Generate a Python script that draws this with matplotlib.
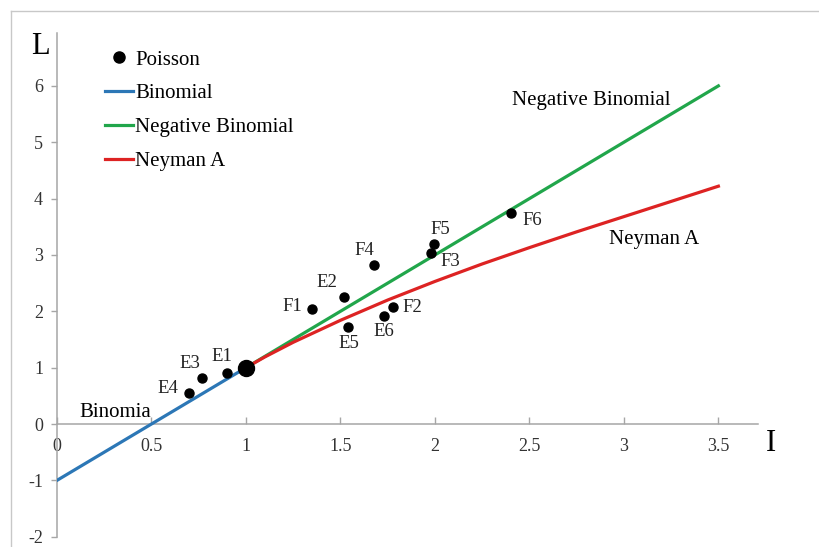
import matplotlib
matplotlib.use("Agg")
import matplotlib.pyplot as plt
from matplotlib.lines import Line2D

plt.rcParams['font.family'] = ['Liberation Serif', 'DejaVu Serif']
plt.rcParams['axes.unicode_minus'] = False

# observed samples (I, L)
sample_names = ['E1', 'E2', 'E3', 'E4', 'E5', 'E6', 'F1', 'F2', 'F3', 'F4', 'F5', 'F6']
sample_I = [0.90, 1.52, 0.765, 0.70, 1.54, 1.73, 1.35, 1.78, 1.98, 1.68, 1.995, 2.40]
sample_L = [0.90, 2.25, 0.82, 0.55, 1.72, 1.91, 2.04, 2.07, 3.03, 2.82, 3.19, 3.74]
# label offsets in pixels (dx, dy)
label_dx = [-5, -17, -12, -21, 1, 0, -20, 19, 19, -10, 6, 22]
label_dy = [17, 15, 14, 5, -16, -15, 3, 0, -8, 15, 15, -7]

poisson_I = [1.0]
poisson_L = [1.0]

binom_I = [0.0, 1.0]
binom_L = [-1.0, 1.0]

negbin_I = [1.0, 3.5]
negbin_L = [1.0, 6.0]

neyman_I = [1.0, 1.1, 1.25, 1.5, 1.75, 2.0, 2.25, 2.5, 2.75, 3.0, 3.25, 3.5]
neyman_L = [1.0, 1.19, 1.45, 1.84, 2.2, 2.53, 2.84, 3.13, 3.41, 3.68, 3.95, 4.22]

c_blue = '#2c77b6'
c_green = '#21a64b'
c_red = '#dd2323'
c_axis = '#a6a6a6'

fig = plt.figure(figsize=(8.19, 5.47), dpi=100)
ax = fig.add_axes([0.0696, 0.0188, 0.856, 0.920])

ax.plot(binom_I, binom_L, color=c_blue, lw=2.3, label='Binomial', zorder=3)
ax.plot(negbin_I, negbin_L, color=c_green, lw=2.3, label='Negative Binomial', zorder=3)
ax.plot(neyman_I, neyman_L, color=c_red, lw=2.3, label='Neyman A', zorder=3,
        solid_joinstyle='round')
ax.plot(sample_I, sample_L, 'o', color='black', ms=6.5, zorder=4)
ax.plot(poisson_I, poisson_L, 'o', color='black', ms=11.5, zorder=5)

for name, x, y, dx, dy in zip(sample_names, sample_I, sample_L, label_dx, label_dy):
    ax.annotate(name, (x, y), xytext=(dx, dy), textcoords='offset pixels',
                ha='center', va='center', fontsize=13.5, color='#222222')

ax.text(2.406, 5.74, 'Negative Binomial', fontsize=15, ha='left', va='center')
ax.text(2.92, 3.28, 'Neyman A', fontsize=15, ha='left', va='center')
ax.text(0.116, 0.21, 'Binomia', fontsize=15, ha='left', va='center')

# axis names
ax.text(-0.024, 0.975, 'L', transform=ax.transAxes, fontsize=22,
        ha='center', va='center', clip_on=False)
ax.text(3.78, -0.34, 'I', fontsize=22, ha='center', va='center', clip_on=False)

ax.set_xlim(0, 3.71)
ax.set_ylim(-2, 6.93)
ax.set_xticks([0, 0.5, 1, 1.5, 2, 2.5, 3, 3.5])
ax.set_xticklabels(['0', '0.5', '1', '1.5', '2', '2.5', '3', '3.5'])
ax.set_yticks(range(-2, 7))

ax.spines['top'].set_visible(False)
ax.spines['right'].set_visible(False)
ax.spines['bottom'].set_position(('data', 0))
for s in ('left', 'bottom'):
    ax.spines[s].set_color(c_axis)
    ax.spines[s].set_linewidth(1.1)
ax.tick_params(axis='y', direction='out', length=4, width=1, color=c_axis,
               labelsize=13, pad=6, labelcolor='#333333')
ax.tick_params(axis='x', direction='in', length=5, width=1, color=c_axis,
               labelsize=13, pad=10, labelcolor='#333333')
ax.patch.set_alpha(0)

# legend
h_poisson = Line2D([], [], marker='o', ls='none', color='black', ms=8)
handles, labels = ax.get_legend_handles_labels()
ax.legend([h_poisson] + handles, ['Poisson'] + labels, loc='upper left',
          bbox_to_anchor=(0.0685, 0.967), frameon=False, fontsize=15,
          handlelength=1.35, handletextpad=0.1, labelspacing=0.68,
          borderpad=0, borderaxespad=0)

# outer frame
fig.add_artist(Line2D([11 / 819, 1], [1 - 11 / 547, 1 - 11 / 547],
                      transform=fig.transFigure, color='#c8c8c8', lw=1))
fig.add_artist(Line2D([11 / 819, 11 / 819], [0, 1 - 11 / 547],
                      transform=fig.transFigure, color='#c8c8c8', lw=1))

fig.savefig('out.png', dpi=100)
